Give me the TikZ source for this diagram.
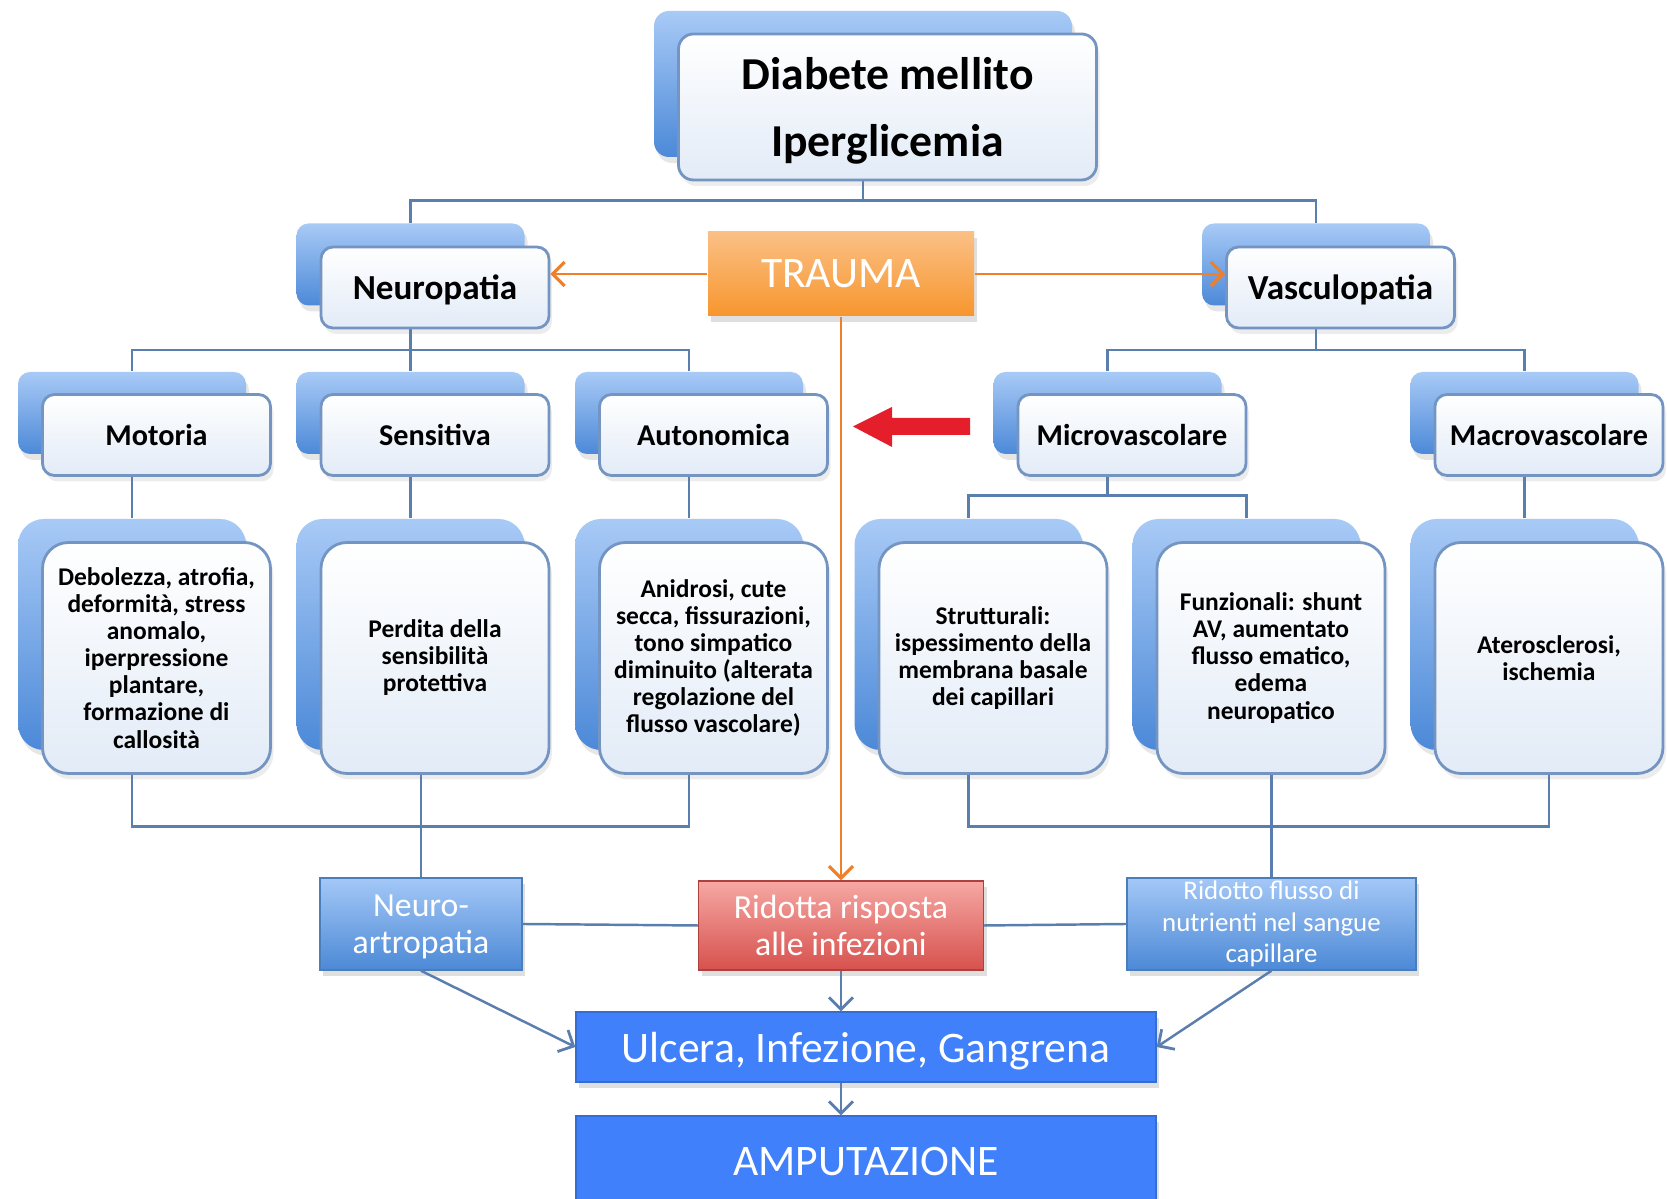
\documentclass[tikz,border=0pt]{standalone}
\usepackage{fontspec}
\setmainfont{Carlito}
\usetikzlibrary{arrows.meta,shadows,backgrounds}

\definecolor{backtop}{HTML}{A8CAF6}
\definecolor{backbot}{HTML}{4C89D8}
\definecolor{frontbot}{HTML}{E2EBF7}
\definecolor{frontline}{HTML}{7495C2}
\definecolor{linkblue}{HTML}{5A7EAE}
\definecolor{traumatop}{HTML}{FBC085}
\definecolor{traumabot}{HTML}{F7962E}
\definecolor{traumaline}{HTML}{F07F2A}
\definecolor{redtop}{HTML}{F6A8A4}
\definecolor{redbot}{HTML}{D7514D}
\definecolor{flowtop}{HTML}{A4C8F7}
\definecolor{flowbot}{HTML}{4C89D6}
\definecolor{flowline}{HTML}{4A7EBB}
\definecolor{endblue}{HTML}{4080FA}
\definecolor{arrowred}{HTML}{E41E2A}

\begin{document}
\begin{tikzpicture}[scale=1,
    every node/.style={inner sep=0pt, align=center},
    back/.style={rounded corners=1.2mm, top color=backtop, bottom color=backbot,
        minimum width=2.28cm, minimum height=0.82cm,
        drop shadow={shadow xshift=0.3mm, shadow yshift=-0.6mm, opacity=0.2}},
    front/.style={rounded corners=1.2mm, draw=frontline, line width=0.8pt,
        top color=white, bottom color=frontbot,
        minimum width=2.28cm, minimum height=0.81cm,
        drop shadow={shadow xshift=0.3mm, shadow yshift=-0.6mm, opacity=0.15}},
    tall/.style={rounded corners=2.6mm, minimum height=2.31cm},
    head/.style={font=\fontsize{10}{12}\selectfont\bfseries, text depth=0pt},
    sub/.style={font=\fontsize{8.6}{10}\selectfont\bfseries, text depth=0pt},
    detail/.style={font=\fontsize{7.25}{7.7}\selectfont\bfseries},
    flow/.style={draw=flowline, line width=0.4pt, top color=flowtop, bottom color=flowbot,
        text=white, font=\fontsize{9.6}{10.6}\selectfont,
        drop shadow={shadow xshift=0.3mm, shadow yshift=-0.6mm, opacity=0.25}},
    final/.style={draw=endblue!85!black, line width=0.4pt, fill=endblue, text=white,
        minimum width=5.80cm, font=\fontsize{12.4}{14}\selectfont, text depth=0pt,
        drop shadow={shadow xshift=0.3mm, shadow yshift=-0.6mm, opacity=0.25}},
    link/.style={draw=linkblue, line width=0.7pt},
    tip/.style={-{Straight Barb[length=1.2mm,width=2.4mm,line width=0.8pt]}},
    orangelink/.style={draw=traumaline, line width=0.8pt,
        -{Straight Barb[length=1.2mm,width=2.4mm,line width=0.9pt]}}]

    \useasboundingbox (0,0) rectangle (16.67,-11.99);

    % top
    \node[back, rounded corners=1.5mm, minimum width=4.18cm, minimum height=1.46cm] (diabB) at (8.63,-0.84) {};
    \node[front, rounded corners=1.5mm, minimum width=4.18cm, minimum height=1.46cm, text depth=0pt,
        font=\fontsize{13}{19.3}\selectfont\bfseries] (diab) at ([shift={(0.245,-0.23)}]diabB) {Diabete mellito\\Iperglicemia};

    % second level
    \node[back] (neuB) at (4.105,-2.645) {};
    \node[front, head] (neu) at ([shift={(0.245,-0.23)}]neuB) {Neuropatia};
    \node[back] (vasB) at (13.16,-2.645) {};
    \node[front, head] (vas) at ([shift={(0.245,-0.23)}]vasB) {Vasculopatia};
    \node[top color=traumatop, bottom color=traumabot, text=white, minimum width=2.66cm, minimum height=0.84cm,
        font=\fontsize{12.4}{14}\selectfont,
        drop shadow={shadow xshift=0.3mm, shadow yshift=-0.6mm, opacity=0.25}] (trauma) at (8.41,-2.74) {TRAUMA};

    % third level
    \node[back] (motB) at (1.32,-4.13) {};
    \node[front, sub] (mot) at ([shift={(0.245,-0.22)}]motB) {Motoria};
    \node[back] (senB) at (4.105,-4.13) {};
    \node[front, sub] (sen) at ([shift={(0.245,-0.22)}]senB) {Sensitiva};
    \node[back] (autB) at (6.89,-4.13) {};
    \node[front, sub] (aut) at ([shift={(0.245,-0.22)}]autB) {Autonomica};
    \node[back] (micB) at (11.075,-4.13) {};
    \node[front, sub] (mic) at ([shift={(0.245,-0.22)}]micB) {Microvascolare};
    \node[back] (macB) at (15.245,-4.13) {};
    \node[front, sub] (mac) at ([shift={(0.245,-0.22)}]macB) {Macrovascolare};

    % details
    \node[back, tall] (motDB) at (1.32,-6.345) {};
    \node[front, tall, detail] (motD) at ([shift={(0.245,-0.235)}]motDB)
        {Debolezza, atrofia,\\deformità, stress\\anomalo,\\iperpressione\\plantare,\\formazione di\\callosità};
    \node[back, tall] (senDB) at (4.105,-6.345) {};
    \node[front, tall, detail] (senD) at ([shift={(0.245,-0.235)}]senDB)
        {Perdita della\\sensibilità\\protettiva};
    \node[back, tall] (autDB) at (6.89,-6.345) {};
    \node[front, tall, detail] (autD) at ([shift={(0.245,-0.235)}]autDB)
        {Anidrosi, cute\\secca, fissurazioni,\\tono simpatico\\diminuito (alterata\\regolazione del\\flusso vascolare)};
    \node[back, tall] (strDB) at (9.685,-6.345) {};
    \node[front, tall, detail] (strD) at ([shift={(0.245,-0.235)}]strDB)
        {Strutturali:\\ispessimento della\\membrana basale\\dei capillari};
    \node[back, tall] (funDB) at (12.465,-6.345) {};
    \node[front, tall, detail] (funD) at ([shift={(0.245,-0.235)}]funDB)
        {Funzionali: shunt\\AV, aumentato\\flusso ematico,\\edema\\neuropatico};
    \node[back, tall] (atrDB) at (15.245,-6.345) {};
    \node[front, tall, detail] (atrD) at ([shift={(0.245,-0.235)}]atrDB)
        {Aterosclerosi,\\ischemia};

    % outcomes
    \node[flow, minimum width=2.02cm, minimum height=0.92cm, text depth=0pt] (neuroA) at (4.21,-9.24) {Neuro-\\artropatia};
    \node[flow, draw=redbot!80!black, top color=redtop, bottom color=redbot,
        minimum width=2.85cm, minimum height=0.89cm] (ridotta) at (8.41,-9.255) {Ridotta risposta\\alle infezioni};
    \node[flow, minimum width=2.89cm, minimum height=0.92cm, font=\fontsize{7.65}{8.9}\selectfont] (flusso) at (12.715,-9.24)
        {Ridotto flusso di\\nutrienti nel sangue\\capillare};
    \node[final, minimum height=0.70cm] (ulcera) at (8.66,-10.47) {Ulcera, Infezione, Gangrena};
    \node[final, minimum height=0.90cm] (amput) at (8.66,-11.61) {AMPUTAZIONE};

    % red arrow
    \fill[arrowred] (9.70,-4.18) -- (8.92,-4.18) -- (8.92,-4.07) -- (8.53,-4.265)
        -- (8.92,-4.47) -- (8.92,-4.35) -- (9.70,-4.35) -- cycle;

    \begin{scope}[on background layer]
        \draw[link] (diabB.south) -- ++(0,-0.43) coordinate (dbar) -| (neuB.north) (dbar) -| (vasB.north);
        \draw[link] (neuB.south) -- ++(0,-0.44) coordinate (nbar) -| (motB.north) (nbar) -| (autB.north);
        \draw[link] (neuB.south) -- (senB.north);
        \draw[link] (vasB.south) -- ++(0,-0.44) coordinate (vbar) -| (micB.north) (vbar) -| (macB.north);
        \draw[link] (motB.south) -- (motDB.north);
        \draw[link] (senB.south) -- (senDB.north);
        \draw[link] (autB.south) -- (autDB.north);
        \draw[link] (micB.south) -- ++(0,-0.41) coordinate (mbar) -| (strDB.north) (mbar) -| (funDB.north);
        \draw[link] (macB.south) -- (atrDB.north);
        \draw[link] (motDB.south) -- ++(0,-0.76) -| (autDB.south);
        \draw[link] (senD.south -| neuroA.north) -- (neuroA.north);
        \draw[link] (strDB.south) -- ++(0,-0.76) -| (atrD.south);
        \draw[link] (funD.south -| flusso.north) -- (flusso.north);
    \end{scope}

    \draw[link] (neuroA.east) -- (ridotta.west);
    \draw[link] (ridotta.east) -- (flusso.west);
    \draw[link, tip] (neuroA.south) -- (ulcera.west);
    \draw[link, tip] (flusso.south) -- (ulcera.east);
    \draw[link, tip] (ridotta.south) -- (ridotta.south |- ulcera.north);
    \draw[link, tip] (ulcera.south -| ridotta.south) -- (amput.north -| ridotta.south);

    \draw[orangelink] (trauma.west) -- (trauma.west -| neu.east);
    \draw[orangelink] (trauma.east) -- (trauma.east -| vas.west);
    \draw[orangelink] (trauma.south) -- (ridotta.north);
\end{tikzpicture}
\end{document}
